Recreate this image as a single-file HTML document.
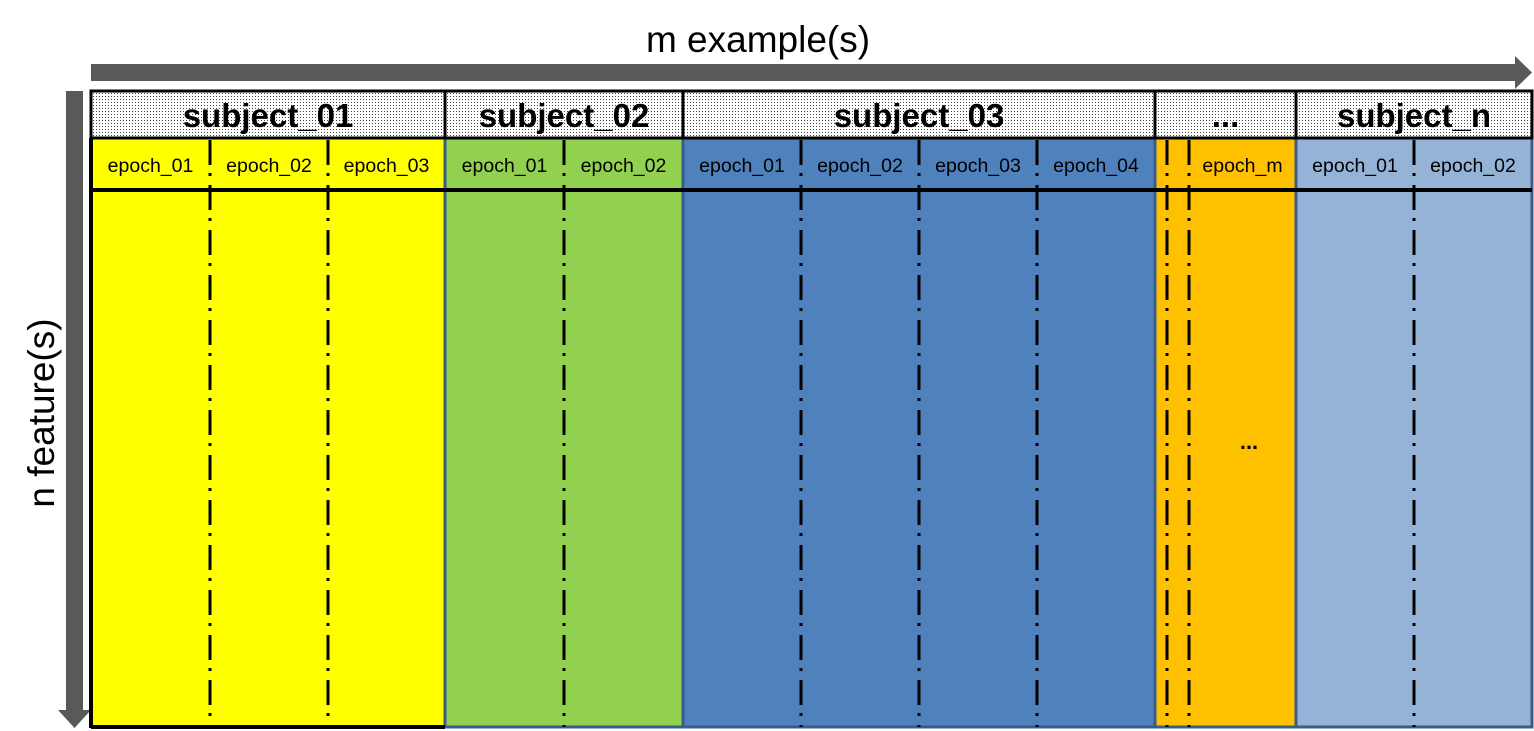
<!DOCTYPE html>
<html><head><meta charset="utf-8"><style>
html,body{margin:0;padding:0;background:#fff;width:1534px;height:731px;overflow:hidden}
svg text{font-family:"Liberation Sans",sans-serif}
</style></head><body>
<svg id="chart" width="1534" height="731" viewBox="0 0 1534 731" xmlns="http://www.w3.org/2000/svg">
<defs>
<pattern id="dots" width="3" height="3" patternUnits="userSpaceOnUse">
<rect width="3" height="3" fill="#fff"/><rect width="1" height="1" fill="#444"/>
</pattern>
</defs>
<g id="arrows">
<polygon points="91,64 1515,64 1515,56 1532,72.5 1515,89 1515,81 91,81" fill="#595959"/>
<polygon points="66,91 83,91 83,710 91,710 74.5,728 58,710 66,710" fill="#595959"/>
<text x="758" y="52" font-size="37" text-anchor="middle" fill="#000">m example(s)</text>
<text transform="translate(54,413) rotate(-90)" font-size="37" text-anchor="middle" fill="#000">n feature(s)</text>
</g>
<g id="table"></g>
</svg>
<script>
const subjects = ["subject_01","subject_02","subject_03","...","subject_n"];
const subjectBounds = [91,445,683,1155,1296,1532];
const subjectColors = ["#FFFF00","#92D050","#4F81BD","#FFC000","#95B3D7"];
const epochLabels = [
 ["epoch_01","epoch_02","epoch_03"],
 ["epoch_01","epoch_02"],
 ["epoch_01","epoch_02","epoch_03","epoch_04"],
 ["","","epoch_m"],
 ["epoch_01","epoch_02"]
];
const epochDividers = [[210,328],[564],[801,919,1037],[1167,1189],[1414]];
(function(){
const NS="http://www.w3.org/2000/svg";
const g=document.getElementById('table');
function mk(tag,attrs){const e=document.createElementNS(NS,tag);for(const k in attrs)e.setAttribute(k,attrs[k]);g.appendChild(e);return e;}
const topY=91, hdrB=138, epB=190, bot=727;
subjects.forEach((s,i)=>{
  const x0=subjectBounds[i], x1=subjectBounds[i+1];
  const body=mk('rect',{x:x0,y:hdrB,width:x1-x0,height:bot-hdrB,fill:subjectColors[i],stroke:i===0?'none':'#385D8A','stroke-width':3});
  
  
  const h=mk('rect',{x:x0,y:topY,width:x1-x0,height:hdrB-topY,fill:'url(#dots)',stroke:'#000','stroke-width':3});
  
  
  const t=mk('text',{x:(x0+x1)/2,y:hdrB-11,'font-size':33,'font-weight':'bold','text-anchor':'middle',fill:'#000'});
  t.textContent=s;
  
  
  const edges=[x0,...epochDividers[i],x1];
  epochLabels[i].forEach((lab,j)=>{
    if(!lab)return;
    const et=mk('text',{x:(edges[j]+edges[j+1])/2,y:172,'font-size':19.5,'text-anchor':'middle',fill:'#000'});
    et.textContent=lab;
    
    
  });
  epochDividers[i].forEach(dx=>{
    const l=mk('line',{x1:dx,y1:hdrB+2,x2:dx,y2:bot,stroke:'#000','stroke-width':3,'stroke-dasharray':'25 8 3 9'});
    
    
  });
});
const l0=mk('line',{x1:91,y1:hdrB,x2:91,y2:bot+1,stroke:'#000','stroke-width':4});


const lb=mk('line',{x1:91,y1:bot,x2:445,y2:bot,stroke:'#000','stroke-width':4});


const sep=mk('line',{x1:91,y1:epB,x2:1532,y2:epB,stroke:'#000','stroke-width':4});


const el=mk('text',{x:1249,y:449,'font-size':22,'font-weight':'bold','text-anchor':'middle',fill:'#000'});
el.textContent='...';


})();
</script>
</body></html>
